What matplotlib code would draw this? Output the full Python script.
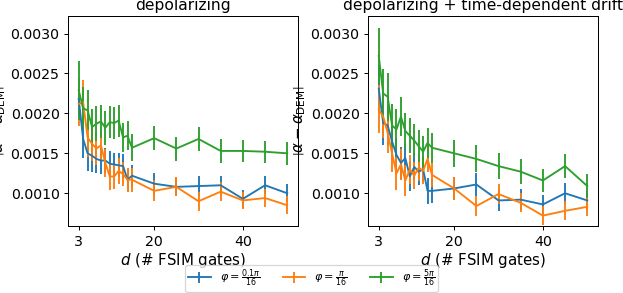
import numpy as np
import matplotlib
matplotlib.use('Agg')
import matplotlib.pyplot as plt

# circuit depth d (number of FSIM gates)
d = [3, 4, 5, 6, 7, 8, 9, 10, 11, 12, 13, 14, 15, 20, 25, 30, 35, 40, 45, 50]

labels = [r'$\varphi=\frac{0.1\pi}{16}$', r'$\varphi=\frac{\pi}{16}$',
          r'$\varphi=\frac{5\pi}{16}$']
titles = ['depolarizing', 'depolarizing + time-dependent drift']

# depolarizing
dep_blue = [0.00218, 0.00168, 0.00150, 0.00147, 0.00143, 0.00141, 0.00141,
            0.00137, 0.00136, 0.00135, 0.00134, 0.00117, 0.00122,
            0.00112, 0.00108, 0.00109, 0.00110, 0.00093, 0.00110, 0.00100]
dep_blue_err = [0.00025, 0.00024, 0.00022, 0.00020, 0.00018, 0.00017, 0.00016,
                0.00016, 0.00015, 0.00015, 0.00015, 0.00014, 0.00014,
                0.00013, 0.00012, 0.00012, 0.00012, 0.00011, 0.00011, 0.00011]
dep_orange = [0.00212, 0.00214, 0.00170, 0.00162, 0.00156, 0.00160, 0.00138,
              0.00121, 0.00121, 0.00128, 0.00124, 0.00117, 0.00117,
              0.00103, 0.00108, 0.00090, 0.00102, 0.00091, 0.00094, 0.00085]
dep_orange_err = [0.00028, 0.00028, 0.00024, 0.00022, 0.00020, 0.00019, 0.00018,
                  0.00017, 0.00016, 0.00016, 0.00015, 0.00015, 0.00015,
                  0.00013, 0.00012, 0.00012, 0.00012, 0.00011, 0.00011, 0.00011]
dep_green = [0.00229, 0.00206, 0.00204, 0.00183, 0.00187, 0.00190, 0.00182,
             0.00189, 0.00188, 0.00191, 0.00170, 0.00172, 0.00157,
             0.00169, 0.00156, 0.00168, 0.00153, 0.00153, 0.00152, 0.00150]
dep_green_err = [0.00037, 0.00027, 0.00025, 0.00023, 0.00022, 0.00021, 0.00021,
                 0.00020, 0.00020, 0.00020, 0.00018, 0.00018, 0.00017,
                 0.00015, 0.00015, 0.00015, 0.00015, 0.00014, 0.00014, 0.00014]

# depolarizing + time-dependent drift
drift_blue = [0.00231, 0.00188, 0.00185, 0.00165, 0.00148, 0.00138, 0.00144,
              0.00121, 0.00133, 0.00127, 0.00130, 0.00103, 0.00103,
              0.00106, 0.00111, 0.00091, 0.00092, 0.00086, 0.00100, 0.00091]
drift_blue_err = [0.00030, 0.00027, 0.00025, 0.00023, 0.00021, 0.00020, 0.00019,
                  0.00018, 0.00017, 0.00017, 0.00016, 0.00016, 0.00015,
                  0.00014, 0.00014, 0.00013, 0.00013, 0.00012, 0.00013, 0.00012]
drift_orange = [0.00205, 0.00196, 0.00176, 0.00150, 0.00125, 0.00136, 0.00116,
                0.00130, 0.00122, 0.00132, 0.00128, 0.00143, 0.00123,
                0.00106, 0.00084, 0.00099, 0.00088, 0.00072, 0.00078, 0.00083]
drift_orange_err = [0.00030, 0.00027, 0.00025, 0.00023, 0.00021, 0.00020, 0.00019,
                    0.00018, 0.00017, 0.00017, 0.00016, 0.00016, 0.00015,
                    0.00014, 0.00013, 0.00013, 0.00012, 0.00012, 0.00012, 0.00012]
drift_green = [0.00272, 0.00225, 0.00221, 0.00185, 0.00180, 0.00196, 0.00178,
               0.00172, 0.00166, 0.00159, 0.00152, 0.00163, 0.00157,
               0.00150, 0.00143, 0.00134, 0.00127, 0.00116, 0.00134, 0.00109]
drift_green_err = [0.00035, 0.00030, 0.00030, 0.00027, 0.00025, 0.00024, 0.00023,
                   0.00022, 0.00021, 0.00020, 0.00020, 0.00019, 0.00019,
                   0.00017, 0.00017, 0.00016, 0.00016, 0.00015, 0.00015, 0.00015]

panels = [
    [(dep_blue, dep_blue_err), (dep_orange, dep_orange_err),
     (dep_green, dep_green_err)],
    [(drift_blue, drift_blue_err), (drift_orange, drift_orange_err),
     (drift_green, drift_green_err)],
]

fig = plt.figure(figsize=(623 / 90, 293 / 90), dpi=90)
ax1 = fig.add_axes([0.1096, 0.2287, 0.3682, 0.7167])
ax2 = fig.add_axes([0.5912, 0.2287, 0.3682, 0.7167])

for ax, title, series in zip([ax1, ax2], titles, panels):
  for (y, e), lab in zip(series, labels):
    ax.errorbar(d, y, yerr=e, label=lab)
  ax.set_title(title, fontsize=12.4, pad=5)
  ax.set_xticks([3, 20, 40])
  ax.set_yticks([0.0010, 0.0015, 0.0020, 0.0025, 0.0030])
  ax.set_ylim(0.00059, 0.00322)
  ax.tick_params(labelsize=11.3)
  ax.set_xlabel(r'$d$ (# FSIM gates)', fontsize=12, labelpad=2)
  ax.set_ylabel(r'$\left|\alpha - \alpha_{\mathrm{DEM}}\right|$', fontsize=12,
                labelpad=2)

handles, labs = ax1.get_legend_handles_labels()
fig.legend(handles, labs, loc='lower center', ncol=3, fontsize=9,
           borderpad=0.25, bbox_to_anchor=(0.5, -0.015))
fig.savefig('out.png', dpi=90)
